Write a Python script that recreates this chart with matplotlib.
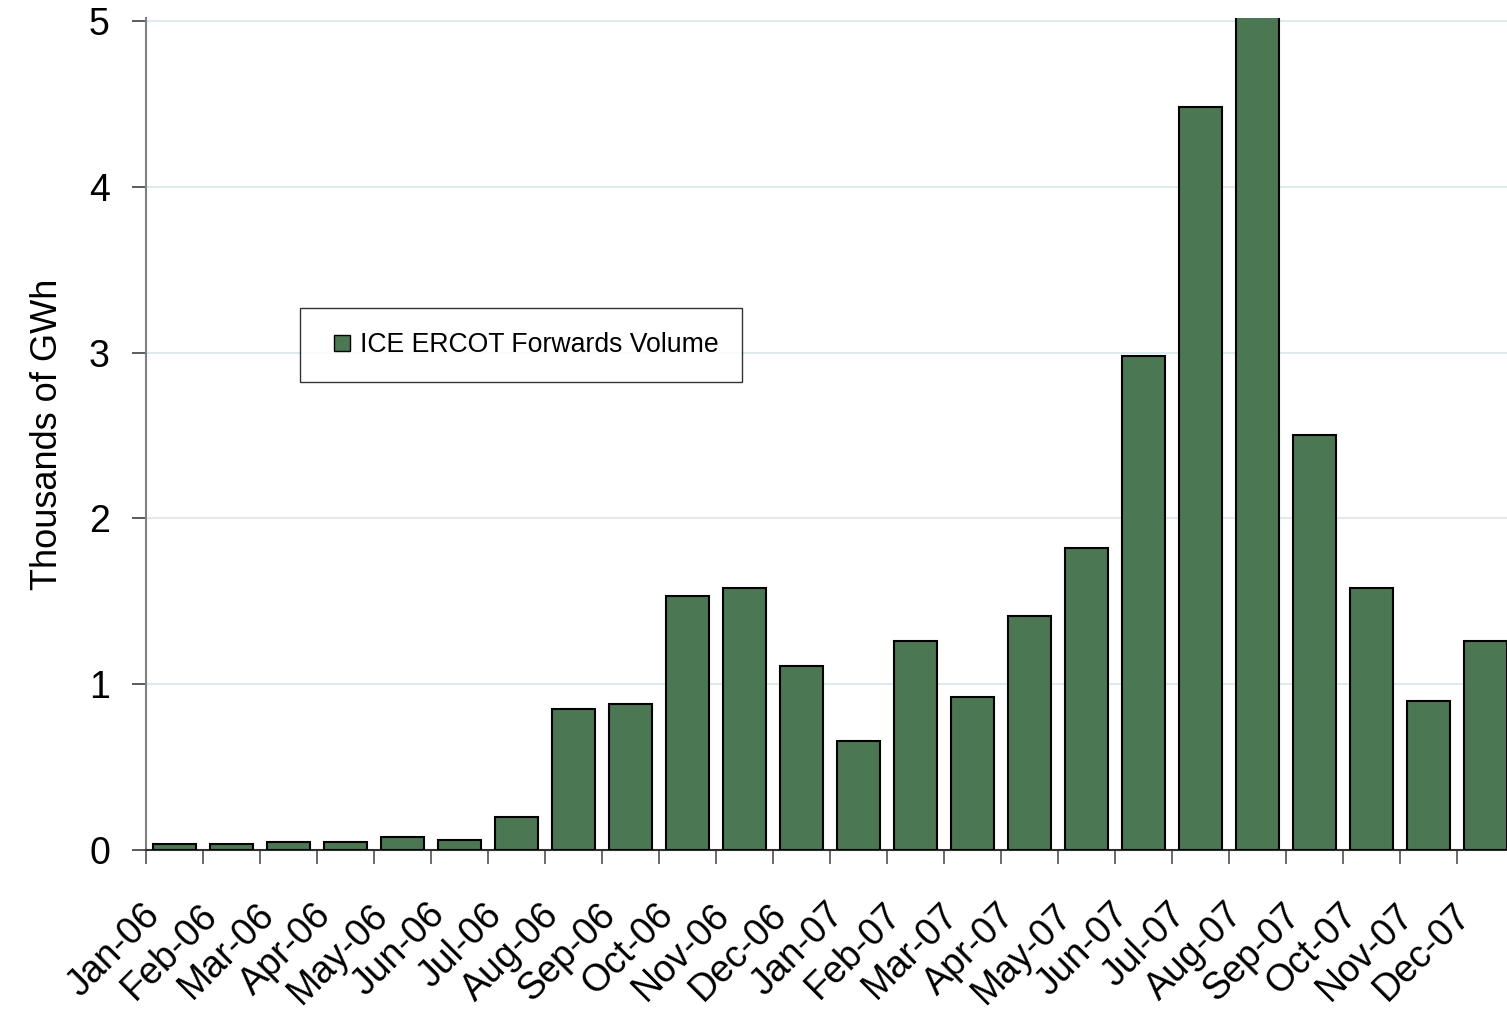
import matplotlib
matplotlib.use("Agg")
import matplotlib.pyplot as plt
from matplotlib.lines import Line2D
import matplotlib.transforms as mtransforms
import numpy as np

months = ["Jan-06", "Feb-06", "Mar-06", "Apr-06", "May-06", "Jun-06", "Jul-06",
          "Aug-06", "Sep-06", "Oct-06", "Nov-06", "Dec-06", "Jan-07", "Feb-07",
          "Mar-07", "Apr-07", "May-07", "Jun-07", "Jul-07", "Aug-07", "Sep-07",
          "Oct-07", "Nov-07", "Dec-07"]
volume = [0.035, 0.035, 0.05, 0.05, 0.08, 0.06, 0.20, 0.85, 0.88, 1.53, 1.58, 1.11,
          0.66, 1.26, 0.92, 1.41, 1.82, 2.98, 4.48, 5.30, 2.50, 1.58, 0.90, 1.26]
series_name = "ICE ERCOT Forwards Volume"
y_ticks = [0, 1, 2, 3, 4, 5]

plt.rcParams['font.family'] = ['Liberation Sans', 'DejaVu Sans']

BAR_COLOR = '#4b7752'
W, H = 1507, 1013
fig = plt.figure(figsize=(W / 100, H / 100), dpi=100)
ax = fig.add_axes([146 / W, 1 - 850 / H, 1368 / W, 832 / H])

x = np.arange(len(months))
ax.bar(x, volume, width=0.755, color=BAR_COLOR, edgecolor='black', linewidth=1.5,
       label=series_name, zorder=3)

ax.set_xlim(-0.5, len(months) - 0.5)
ax.set_ylim(0, 5.018)
ax.set_yticks(y_ticks)
ax.set_yticklabels([str(t) for t in y_ticks], fontsize=27)
ax.yaxis.grid(True, color='#d9e6ea', linewidth=1.2, zorder=0)
ax.set_axisbelow(True)

ax.set_xticks(x)
ax.set_xticklabels(months, fontsize=27, rotation=45, ha='right', va='center',
                   rotation_mode='anchor')
ax.tick_params(axis='x', which='major', length=0, pad=32)
offset = mtransforms.ScaledTranslation(-20 / 100, -15 / 100, fig.dpi_scale_trans)
for lbl in ax.get_xticklabels():
    lbl.set_transform(lbl.get_transform() + offset)
ax.set_xticks(np.arange(len(months) + 1) - 0.5, minor=True)
ax.tick_params(axis='x', which='minor', length=10, width=1.2, color='#505050', direction='out')
ax.tick_params(axis='y', length=10, width=1.2, color='#404040', pad=16)

for s in ['top', 'right']:
    ax.spines[s].set_visible(False)
ax.spines['left'].set_color('#808080')
ax.spines['left'].set_linewidth(1.5)
ax.spines['bottom'].set_color('#303030')
ax.spines['bottom'].set_linewidth(1.5)

ax.set_ylabel("Thousands of GWh", fontsize=26, labelpad=17)

proxy = Line2D([], [], linestyle='none', marker='s', markersize=11,
               markerfacecolor=BAR_COLOR, markeredgecolor='black', markeredgewidth=1.0)
leg = ax.legend([proxy], [series_name], loc='center',
                bbox_to_anchor=(521 / W, 1 - 345 / H),
                bbox_transform=fig.transFigure, fontsize=19.2, frameon=True,
                fancybox=False, shadow=False, borderpad=0.9, handlelength=1.4,
                handletextpad=-0.05, borderaxespad=0)
leg.get_frame().set_edgecolor('black')
leg.get_frame().set_linewidth(1.0)

fig.savefig("out.png", dpi=100)
